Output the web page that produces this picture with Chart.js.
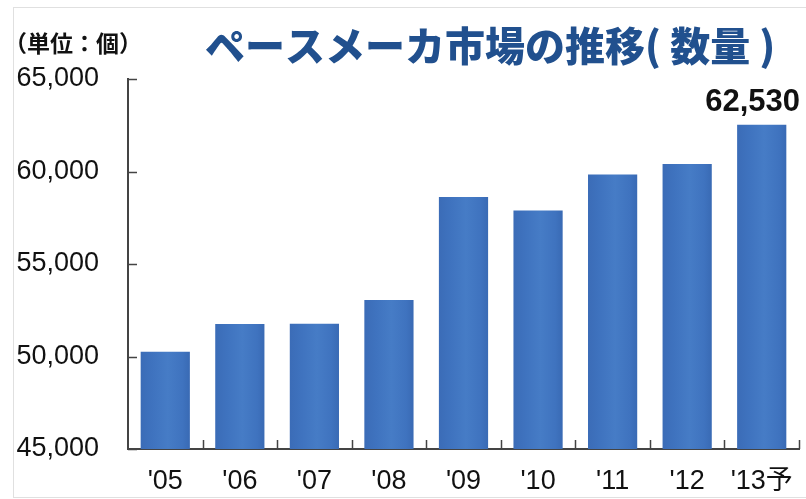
<!DOCTYPE html>
<html lang="ja">
<head>
  <meta charset="UTF-8" />
  <title>ペースメーカ市場の推移（数量）</title>
  <script src="https://cdn.jsdelivr.net/npm/chart.js"></script>
  <style>
    html, body { margin: 0; padding: 0; background: #fff; }
    #wrap { position: relative; width: 806px; height: 499px; }
  </style>
</head>
<body>
  <div id="wrap"><canvas id="marketChart"></canvas></div>

  <script>
    // 年次カテゴリと数量（個）
    const years = ["'05", "'06", "'07", "'08", "'09", "'10", "'11", "'12", "'13予"];
    const units = [50260, 51760, 51770, 53060, 58620, 57890, 59840, 60400, 62530];
    const yTicks = [45000, 50000, 55000, 60000, 65000];

    const chartTitle = 'ペースメーカ市場の推移( 数量 )';
    const unitLabel = '（単位：個）';

    const numFont = "'Liberation Sans Narrow', 'Arial Narrow', 'Liberation Sans', 'Noto Sans CJK JP', sans-serif";
    const fmt = v => v.toLocaleString('en-US');

    // 各棒に横方向のグラデーション
    function barFill(ctx) {
      const chart = ctx.chart;
      const xs = chart.scales.x;
      const fallback = '#3f74c0';
      if (!xs || ctx.dataIndex === undefined) return fallback;
      const cx = xs.getPixelForValue(ctx.dataIndex);
      const half = (xs.width / years.length) * 0.66 / 2;
      if (!isFinite(cx) || !isFinite(half) || half <= 0) return fallback;
      const g = chart.ctx.createLinearGradient(cx - half, 0, cx + half, 0);
      g.addColorStop(0, '#3b6cb7');
      g.addColorStop(0.25, '#3f73bf');
      g.addColorStop(0.55, '#467cc6');
      g.addColorStop(0.85, '#3f73bf');
      g.addColorStop(1, '#396ab4');
      return g;
    }

    // 内向きの目盛り線・見出し・数値ラベル
    const decorations = {
      id: 'decorations',
      afterDraw(chart) {
        const { ctx, chartArea: a, scales: { x, y } } = chart;
        ctx.save();

        // 外枠
        ctx.strokeStyle = '#e0e0e0';
        ctx.lineWidth = 1;
        ctx.strokeRect(13.5, 7.5, 800, 490);

        // 目盛り
        ctx.strokeStyle = '#444';
        ctx.lineWidth = 1.5;
        ctx.beginPath();
        yTicks.forEach(v => {
          const py = Math.round(y.getPixelForValue(v)) + 0.5;
          ctx.moveTo(a.left, py);
          ctx.lineTo(a.left + 9, py);
        });
        for (let i = 0; i < years.length; i++) {
          const px = i < years.length - 1
            ? (x.getPixelForValue(i) + x.getPixelForValue(i + 1)) / 2
            : a.right;
          ctx.moveTo(Math.round(px) + 0.5, a.bottom);
          ctx.lineTo(Math.round(px) + 0.5, a.bottom - 9);
        }
        ctx.stroke();

        // 単位
        ctx.fillStyle = '#111';
        ctx.font = "bold 23px 'Noto Sans CJK JP', sans-serif";
        ctx.textAlign = 'left';
        ctx.textBaseline = 'middle';
        ctx.fillText(unitLabel, 4, 43);

        // タイトル
        ctx.fillStyle = '#21508e';
        ctx.font = "900 40px 'Noto Sans CJK JP', sans-serif";
        ctx.fillText(chartTitle, 205, 46);

        // 最終年の数値
        const last = units.length - 1;
        const bar = chart.getDatasetMeta(0).data[last];
        const txt = fmt(units[last]);
        ctx.font = 'bold 31px ' + numFont;
        ctx.fillStyle = '#111';
        ctx.textBaseline = 'alphabetic';
        ctx.textAlign = 'center';
        const w = ctx.measureText(txt).width;
        const cx = Math.min(bar.x, 800 - w / 2);
        ctx.fillText(txt, cx, 111);

        ctx.restore();
      }
    };

    new Chart(document.getElementById('marketChart'), {
      type: 'bar',
      data: {
        labels: years,
        datasets: [{
          data: units,
          backgroundColor: barFill,
          borderWidth: 0,
          categoryPercentage: 1,
          barPercentage: 0.66
        }]
      },
      options: {
        responsive: true,
        maintainAspectRatio: false,
        animation: false,
        layout: { padding: { top: 79, right: 7, left: 0, bottom: 0 } },
        plugins: {
          legend: { display: false },
          tooltip: { enabled: false }
        },
        scales: {
          x: {
            grid: { display: false },
            border: { color: '#444', width: 2 },
            ticks: { color: '#111', font: { family: numFont, size: 27 }, padding: 8, maxRotation: 0 },
            afterFit: s => { s.height = 50; }
          },
          y: {
            min: 45000,
            max: 65000,
            grid: { display: false },
            border: { color: '#444', width: 2 },
            ticks: {
              stepSize: 5000,
              color: '#111',
              font: { family: numFont, size: 27 },
              padding: 21,
              callback: v => fmt(v)
            },
            afterFit: s => { s.width = 128; }
          }
        }
      },
      plugins: [decorations]
    });
  </script>
</body>
</html>
